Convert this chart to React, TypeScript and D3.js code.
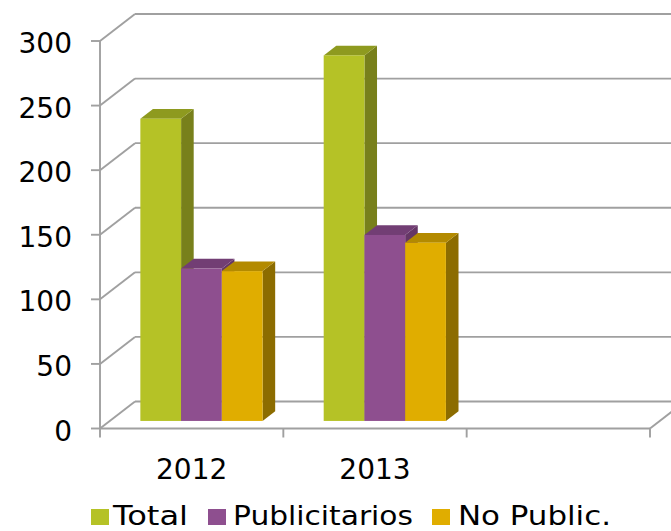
import React from "react";
import * as d3 from "d3";

const categories = ["2012", "2013", ""];
const seriesNames = ["Total", "Publicitarios", "No Public."];
const totalValues = [234, 283, null];
const publicitariosValues = [118, 144, null];
const noPublicValues = [116, 138, null];
const yTicks = [0, 50, 100, 150, 200, 250, 300];

const seriesValues = [totalValues, publicitariosValues, noPublicValues];
const frontColors = ["#B5C226", "#8E4F8F", "#E0AD00"];
const topColors = ["#8E9A1F", "#723E74", "#B38A00"];
const sideColors = ["#78801B", "#653666", "#8C6C00"];

const W = 671;
const H = 531;
const X0 = 100;
const X1 = 650;
const DX = 35;
const DY = 27;
const F0 = 0.28;
const F1 = 0.64;
const FONT = "DejaVu Sans";
const GRID = "#A0A0A0";

export default function App() {
  const y = d3.scaleLinear().domain([0, 300]).range([428.5, 41]);
  const x = d3.scaleBand<string>().domain(categories).range([X0, X1]).paddingInner(0).paddingOuter(0);
  const inner = d3
    .scaleBand<string>()
    .domain(seriesNames)
    .range([0, x.bandwidth()])
    .paddingInner(0)
    .paddingOuter(0.75);
  const bw = inner.bandwidth();
  const fdx = DX * F0, fdy = DY * F0;
  const bdx = DX * (F1 - F0), bdy = DY * (F1 - F0);
  const y0 = y(0);

  const bars: React.ReactNode[] = [];
  categories.forEach((cat, ci) => {
    seriesNames.forEach((s, si) => {
      const v = seriesValues[si][ci];
      if (v == null) return;
      const xl = (x(cat) as number) + (inner(s) as number) + fdx;
      const xr = xl + bw;
      const yb = y0 - fdy;
      const yt = y(v) - fdy;
      const side = `M${xr},${yb} L${xr},${yt} L${xr + bdx},${yt - bdy} L${xr + bdx},${yb - bdy} Z`;
      const top = `M${xl},${yt} L${xr},${yt} L${xr + bdx},${yt - bdy} L${xl + bdx},${yt - bdy} Z`;
      bars.push(
        <g key={`${ci}-${si}`}>
          <path d={side} fill={sideColors[si]} />
          <path d={top} fill={topColors[si]} />
          <rect x={xl} y={yt} width={bw} height={yb - yt} fill={frontColors[si]} />
        </g>
      );
    });
  });

  const catTicks = [...categories.map((c) => x(c) as number), X1];

  const legendItems = [
    { sx: 91, tx: 113, tl: 75 },
    { sx: 208, tx: 233, tl: 180 },
    { sx: 432, tx: 458, tl: 153 },
  ];

  return (
    <svg width={W} height={H} style={{ position: "absolute", left: 0, top: 0, background: "#fff" }}>
      <rect x={0} y={0} width={W} height={H} fill="#fff" />
      <g stroke={GRID} strokeWidth={1.9} fill="none">
        {yTicks.map((t) => (
          <g key={t}>
            <line x1={X0 + DX} y1={y(t) - DY} x2={X1 + DX} y2={y(t) - DY} />
            <line x1={X0} y1={y(t)} x2={X0 + DX} y2={y(t) - DY} />
            <line x1={X0 - 9} y1={y(t)} x2={X0} y2={y(t)} />
          </g>
        ))}
        <line x1={X0} y1={y(300)} x2={X0} y2={y0} />
        <line x1={X0} y1={y0} x2={X1} y2={y0} />
        <line x1={X1} y1={y0} x2={X1 + DX} y2={y0 - DY} />
        {catTicks.map((cx, i) => (
          <line key={i} x1={cx} y1={y0} x2={cx} y2={y0 + 9} />
        ))}
      </g>
      {bars}
      <g fontFamily={FONT} fontSize={28} fill="#000" textAnchor="end">
        {yTicks.map((t) => (
          <text key={t} x={72} y={y(t) + 12}>
            {t}
          </text>
        ))}
      </g>
      <g fontFamily={FONT} fontSize={28} fill="#000" textAnchor="middle">
        {categories.map((c) =>
          c ? (
            <text key={c} x={(x(c) as number) + x.bandwidth() / 2} y={479}>
              {c}
            </text>
          ) : null
        )}
      </g>
      <g fontFamily={FONT} fontSize={26} fill="#000">
        {seriesNames.map((s, i) => (
          <g key={s}>
            <rect x={legendItems[i].sx} y={509} width={18} height={16} fill={frontColors[i]} />
            <text x={legendItems[i].tx} y={524.5} textLength={legendItems[i].tl} lengthAdjust="spacingAndGlyphs">
              {s}
            </text>
          </g>
        ))}
      </g>
    </svg>
  );
}
